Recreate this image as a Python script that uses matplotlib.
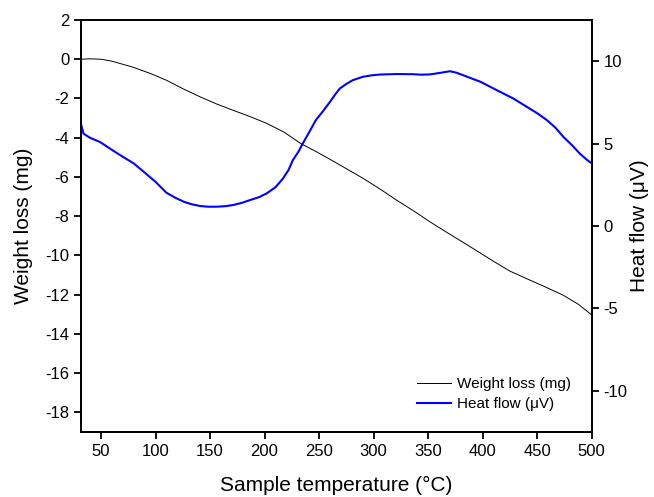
import matplotlib.pyplot as plt
import numpy as np

plt.rcParams['font.family'] = ['Liberation Sans', 'DejaVu Sans']
plt.rcParams['axes.unicode_minus'] = False

# weight loss (mg) vs temperature
temp_w = [32, 40, 50, 60, 79, 95, 110, 125, 141, 156, 171, 187, 202, 218, 233, 247, 260,
          275, 290, 306, 321, 337, 352, 367, 382, 391, 410, 425, 443, 458, 474, 488, 500]
weight = [0.0, 0.02, 0.0, -0.1, -0.4, -0.72, -1.07, -1.5, -1.92, -2.28, -2.6, -2.93, -3.27,
          -3.72, -4.29, -4.7, -5.1, -5.58, -6.06, -6.62, -7.18, -7.74, -8.3, -8.82, -9.33,
          -9.64, -10.3, -10.8, -11.25, -11.62, -12.03, -12.5, -13.03]

# heat flow (uV) vs temperature
temp_h = [32, 34, 40, 49, 60, 70, 80, 89, 100, 110, 118, 126, 133, 141, 148, 156, 164, 171,
          179, 187, 195, 202, 210, 217, 222, 226, 231, 235, 241, 247, 254, 260, 265, 269,
          275, 281, 290, 298, 306, 321, 336, 344, 352, 362, 370, 376, 382, 390, 398, 413,
          428, 443, 451, 459, 467, 474, 482, 489, 495, 500]
heat = [6.1, 5.6, 5.35, 5.1, 4.62, 4.2, 3.8, 3.3, 2.68, 2.02, 1.72, 1.47, 1.32, 1.21, 1.17,
        1.17, 1.2, 1.27, 1.4, 1.58, 1.75, 1.98, 2.35, 2.89, 3.4, 4.0, 4.5, 5.0, 5.7, 6.42,
        7.0, 7.53, 8.0, 8.34, 8.62, 8.85, 9.05, 9.14, 9.19, 9.22, 9.21, 9.18, 9.2, 9.3,
        9.39, 9.3, 9.15, 8.95, 8.75, 8.24, 7.74, 7.13, 6.8, 6.42, 5.95, 5.41, 4.9, 4.4,
        4.05, 3.8]

fig = plt.figure(figsize=(6.54, 4.97), dpi=100)
ax = fig.add_axes([0.1239, 0.1308, 0.7808, 0.829])
ax2 = ax.twinx()

l1, = ax.plot(temp_w, weight, color='black', lw=0.7, label='Weight loss (mg)')
l2, = ax2.plot(temp_h, heat, color='#0000ff', lw=1.5, label='Heat flow (μV)')

ax.set_xlim(31.7, 500)
ax.set_ylim(-19, 2)
ax2.set_ylim(-12.5, 12.5)
ax.set_xticks(np.arange(50, 501, 50))
ax.set_yticks(np.arange(-18, 3, 2))
ax2.set_yticks([-10, -5, 0, 5, 10])

for a in (ax, ax2):
    for s in a.spines.values():
        s.set_linewidth(1.3)
    a.tick_params(direction='out', length=5, width=1.3, labelsize=12)

ax.set_xlabel('Sample temperature (°C)', fontsize=15, labelpad=12)
ax.set_ylabel('Weight loss (mg)', fontsize=15, labelpad=9)
ax2.set_ylabel('Heat flow (μV)', fontsize=15, labelpad=2)

ax.legend(handles=[l1, l2], loc='lower right', bbox_to_anchor=(0.98, 0.025),
          frameon=False, fontsize=11, handlelength=2.2, handletextpad=0.4,
          borderpad=0.2, labelspacing=0.4)

fig.savefig('out.png', dpi=100)
